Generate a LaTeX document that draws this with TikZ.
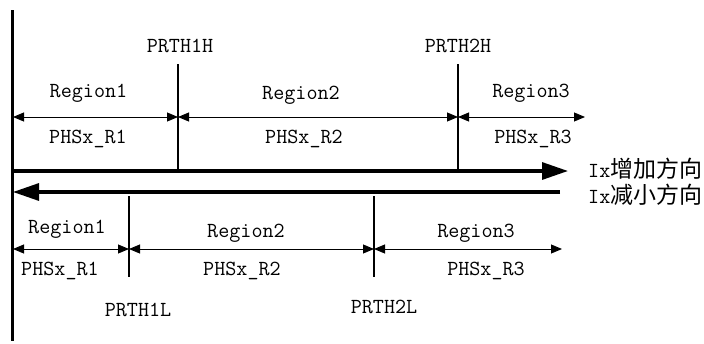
\documentclass[tikz,border=0pt]{standalone}
\usepackage{fontspec}
\newfontfamily\cjk{Noto Sans CJK SC}
\usetikzlibrary{arrows.meta}
\begin{document}
\begin{tikzpicture}[x=1pt,y=-1pt,
  lbl/.style={font=\ttfamily\fontsize{21.5}{21.5}\selectfont, inner sep=0pt, anchor=base},
  dirlbl/.style={font=\ttfamily\fontsize{21.5}{21.5}\selectfont, inner sep=0pt, anchor=base west},
  axisline/.style={line width=3pt},
  dimline/.style={line width=0.9pt, {Triangle[length=11pt,width=9pt]}-{Triangle[length=11pt,width=9pt]}},
  tickline/.style={line width=1.1pt},
  bigarrow/.style={line width=3.2pt, -{Triangle[length=26pt,width=17pt]}}]
\useasboundingbox (0,0) rectangle (704,343);
% axis
\coordinate (axT) at (12.5,10);
\coordinate (axB) at (12.5,341);
\draw[axisline] (axT) -- (axB);
% direction arrows
\coordinate (incS) at (11,171);
\coordinate (incE) at (568,171);
\coordinate (decS) at (560,192);
\coordinate (decE) at (13,192);
\draw[bigarrow] (incS) -- (incE);
\draw[bigarrow] (decS) -- (decE);
\node[dirlbl] (inc) at (588,177) {Ix{\cjk\fontsize{23}{23}\selectfont 增加方向}};
\node[dirlbl] (dec) at (588,203) {Ix{\cjk\fontsize{23}{23}\selectfont 减小方向}};
% top thresholds
\coordinate (h1t) at (178,64);  \coordinate (h1b) at (178,171);
\coordinate (h2t) at (458,64);  \coordinate (h2b) at (458,171);
\draw[tickline] (h1t) -- (h1b);
\draw[tickline] (h2t) -- (h2b);
\node[lbl] (prth1h) at (180,52) {PRTH1H};
\node[lbl] (prth2h) at (458,52) {PRTH2H};
\coordinate (d0) at (13,117);
\coordinate (d1) at (178,117);
\coordinate (d2) at (458,117);
\coordinate (d3) at (585,117);
\draw[dimline] (d0) -- (d1);
\draw[dimline] (d1) -- (d2);
\draw[dimline] (d2) -- (d3);
\node[lbl] (tr1) at (88.5,97) {Region1};
\node[lbl] (tp1) at (88,143) {PHSx\_R1};
\node[lbl] (tr2) at (301,99) {Region2};
\node[lbl] (tp2) at (304,143) {PHSx\_R2};
\node[lbl] (tr3) at (531,97) {Region3};
\node[lbl] (tp3) at (533,143) {PHSx\_R3};
% bottom thresholds
\coordinate (l1t) at (129,196); \coordinate (l1b) at (129,277);
\coordinate (l2t) at (374,196); \coordinate (l2b) at (374,277);
\draw[tickline] (l1t) -- (l1b);
\draw[tickline] (l2t) -- (l2b);
\node[lbl] (prth1l) at (138,316) {PRTH1L};
\node[lbl] (prth2l) at (384,313) {PRTH2L};
\coordinate (e0) at (13,249);
\coordinate (e1) at (129,249);
\coordinate (e2) at (374,249);
\coordinate (e3) at (562,249);
\draw[dimline] (e0) -- (e1);
\draw[dimline] (e1) -- (e2);
\draw[dimline] (e2) -- (e3);
\node[lbl] (br1) at (67,233) {Region1};
\node[lbl] (bp1) at (60,275) {PHSx\_R1};
\node[lbl] (br2) at (246,237) {Region2};
\node[lbl] (bp2) at (242,275) {PHSx\_R2};
\node[lbl] (br3) at (476,237) {Region3};
\node[lbl] (bp3) at (486,275) {PHSx\_R3};
\end{tikzpicture}
\end{document}
